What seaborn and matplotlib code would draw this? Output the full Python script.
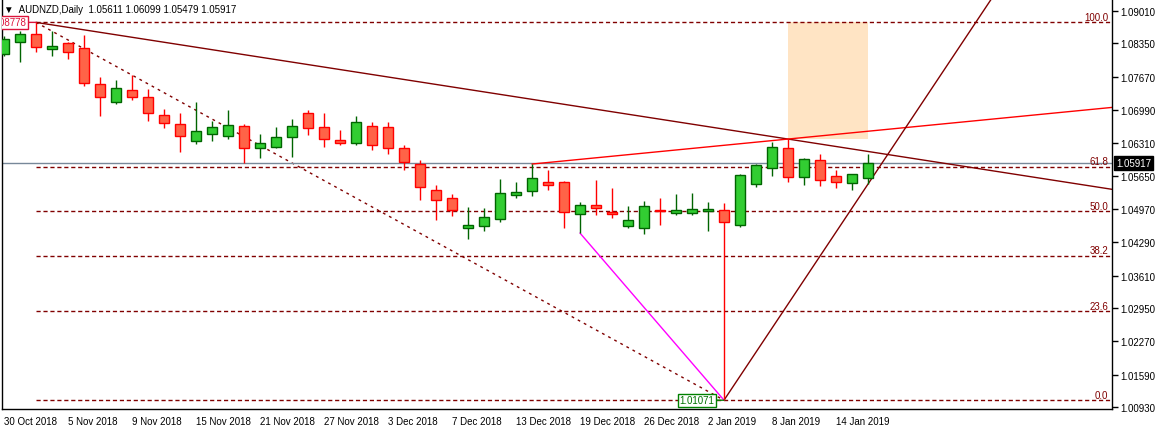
import matplotlib
matplotlib.use('Agg')
import matplotlib.pyplot as plt
import numpy as np
import pandas as pd
import seaborn as sns

# daily AUDNZD bars, 30 Oct 2018 - 16 Jan 2019 (no 25 Dec / 1 Jan bars)
dates = pd.bdate_range('2018-10-30', '2019-01-16').drop(pd.to_datetime(['2018-12-25', '2019-01-01']))

opens = [1.08133, 1.08377, 1.08541, 1.08235, 1.08357, 1.08255, 1.07520, 1.07153, 1.07398, 1.07255,
         1.06888, 1.06704, 1.06358, 1.06500, 1.06460, 1.06664, 1.06215, 1.06235, 1.06439, 1.06929,
         1.06643, 1.06378, 1.06317, 1.06664, 1.06643, 1.06215, 1.05888, 1.05358, 1.05195, 1.04583,
         1.04623, 1.04766, 1.05256, 1.05337, 1.05521, 1.05521, 1.04868, 1.05052, 1.04909, 1.04623,
         1.04583, 1.04950, 1.04889, 1.04889, 1.04929, 1.04950, 1.04644, 1.05480, 1.05807, 1.06215,
         1.05623, 1.05970, 1.05643, 1.05501, 1.05611]
highs = [1.08500, 1.08602, 1.08778, 1.08602, 1.08377, 1.08520, 1.07663, 1.07602, 1.07704, 1.07418,
         1.07010, 1.06929, 1.07153, 1.06766, 1.06990, 1.06704, 1.06500, 1.06643, 1.06806, 1.06990,
         1.06929, 1.06582, 1.06868, 1.06745, 1.06745, 1.06276, 1.05970, 1.05460, 1.05276, 1.05011,
         1.04991, 1.05582, 1.05521, 1.05888, 1.05766, 1.05541, 1.05113, 1.05562, 1.05399, 1.05031,
         1.05133, 1.05195, 1.05276, 1.05297, 1.05113, 1.05093, 1.05684, 1.05888, 1.06337, 1.06398,
         1.06011, 1.06092, 1.05766, 1.05684, 1.06099]
lows = [1.08092, 1.07969, 1.08173, 1.08092, 1.08031, 1.07480, 1.06868, 1.07112, 1.07194, 1.06766,
        1.06623, 1.06133, 1.06296, 1.06358, 1.06398, 1.05909, 1.06011, 1.06215, 1.06031, 1.06480,
        1.06235, 1.06276, 1.06276, 1.06174, 1.06092, 1.05766, 1.05154, 1.04746, 1.04827, 1.04358,
        1.04521, 1.04705, 1.05195, 1.05235, 1.05358, 1.04583, 1.04480, 1.04848, 1.04787, 1.04583,
        1.04460, 1.04644, 1.04848, 1.04848, 1.04521, 1.01071, 1.04603, 1.05419, 1.05643, 1.05521,
        1.05460, 1.05439, 1.05399, 1.05358, 1.05479]
closes = [1.08439, 1.08541, 1.08275, 1.08296, 1.08173, 1.07541, 1.07255, 1.07439, 1.07255, 1.06929,
          1.06725, 1.06460, 1.06562, 1.06643, 1.06684, 1.06215, 1.06317, 1.06439, 1.06664, 1.06623,
          1.06398, 1.06317, 1.06745, 1.06276, 1.06215, 1.05929, 1.05419, 1.05154, 1.04950, 1.04644,
          1.04807, 1.05297, 1.05317, 1.05603, 1.05460, 1.04909, 1.05052, 1.04991, 1.04868, 1.04746,
          1.05031, 1.04929, 1.04950, 1.04970, 1.04970, 1.04705, 1.05664, 1.05868, 1.06235, 1.05623,
          1.05990, 1.05562, 1.05521, 1.05684, 1.05917]

fib_levels = [0.0, 23.6, 38.2, 50.0, 61.8, 100.0]
price_ticks = [1.09010, 1.08350, 1.07670, 1.06990, 1.06310, 1.05650, 1.04970,
               1.04290, 1.03610, 1.02950, 1.02270, 1.01590, 1.00930]

# bar numbers the drawn objects are anchored on
fib_start, fib_end = 2, 45
trend_a, trend_b = 2, 49
rise_a, rise_b = 33, 49
magenta_a = 36
ray_a, ray_b = 45, 54
box_a, box_b = 49, 54

sns.set_theme(style='white')
plt.rcParams['font.family'] = ['Liberation Sans', 'DejaVu Sans']

df = pd.DataFrame({'date': dates, 'open': opens, 'high': highs, 'low': lows, 'close': closes})
df['i'] = np.arange(len(df))
up = df['close'] >= df['open']

fig = plt.figure(figsize=(11.57, 4.31), dpi=100)
ax = fig.add_axes([2 / 1157, 21 / 431, 1110 / 1157, 410 / 431])
x_max = 69.25
ax.set_xlim(-0.125, x_max)
ax.set_ylim(1.00891, 1.09255)

maroon = '#800000'

# peach rectangle
ax.fill_between([box_a, box_b], highs[box_a], highs[fib_start], color='#FFE4C4', lw=0, zorder=0)

# fibo levels
lo, hi = lows[fib_end], highs[fib_start]
for lvl in fib_levels:
    p = lo + (hi - lo) * lvl / 100
    ax.hlines(p, fib_start, x_max, colors=maroon, linestyles=(0, (3, 2)), lw=1, zorder=1)
    ax.text(x_max - 0.25, p + 0.0001, f'{lvl:.1f}', ha='right', va='bottom', fontsize=7, color=maroon)
ax.plot([fib_start, fib_end], [hi, lo], color=maroon, ls=(0, (2, 3)), lw=1, zorder=1)

# bid line
ax.axhline(closes[-1], color='#778899', lw=1, zorder=1)


def ray(a, b, ya, yb):
    k = (yb - ya) / (b - a)
    return [a, x_max], [ya, ya + k * (x_max - a)]


xs, ys = ray(trend_a, trend_b, highs[trend_a], highs[trend_b])
sns.lineplot(x=xs, y=ys, ax=ax, color=maroon, lw=1, zorder=2)
xs, ys = ray(rise_a, rise_b, highs[rise_a], highs[rise_b])
sns.lineplot(x=xs, y=ys, ax=ax, color='#FF0000', lw=1, zorder=2)
xs, ys = ray(ray_a, ray_b, lows[ray_a], lows[ray_b])
sns.lineplot(x=xs, y=ys, ax=ax, color=maroon, lw=1, zorder=2)
sns.lineplot(x=[magenta_a, fib_end], y=[lows[magenta_a], lows[fib_end]], ax=ax, color='#FF00FF', lw=1, zorder=2)

# candles
edge = np.where(up, '#006400', '#FF0000')
fill = np.where(up, '#32CD32', '#FF6347')
ax.vlines(df['i'], df['low'], df['high'], colors=edge, lw=1.0, zorder=3)
body_lo = np.minimum(df['open'], df['close'])
body_h = np.maximum(np.abs(df['close'] - df['open']), 0.00004)
ax.bar(df['i'], body_h, bottom=body_lo, width=0.62, color=fill, edgecolor=edge, lw=1.0, zorder=4)

# price labels of the fibo anchors
ax.annotate(f'{lo:.5f}', xy=(fib_end, lo), xytext=(-7, 0), textcoords='offset points',
            ha='right', va='center', fontsize=7, color='#007000',
            bbox=dict(boxstyle='square,pad=0.15', fc='white', ec='#008000', lw=1),
            arrowprops=dict(arrowstyle='-', color='#008000', lw=1, shrinkA=0, shrinkB=0), zorder=6)
ax.annotate(f'{hi:.5f}', xy=(fib_start, hi), xytext=(-7, 0), textcoords='offset points',
            ha='right', va='center', fontsize=7, color='#DC143C', clip_on=True,
            bbox=dict(boxstyle='square,pad=0.15', fc='white', ec='#DC143C', lw=1),
            arrowprops=dict(arrowstyle='-', color='#DC143C', lw=1, shrinkA=0, shrinkB=0), zorder=6)

# axes
ax.yaxis.tick_right()
ax.set_yticks(price_ticks)
ax.set_yticklabels([f'{p:.5f}' for p in price_ticks])
ticks = df['i'][::4]
ax.set_xticks(ticks)
ax.set_xticklabels([f"{d.day} {d.strftime('%b %Y')}" for d in df['date'][::4]])
for lab in ax.get_xticklabels():
    lab.set_ha('left')
ax.tick_params(axis='both', direction='out', length=4, width=1, colors='black', labelsize=7, pad=2)
ax.tick_params(axis='x', pad=1)
for s in ['left', 'right', 'bottom']:
    ax.spines[s].set_color('black')
    ax.spines[s].set_linewidth(1)
ax.spines['top'].set_visible(False)
ax.set_xlabel('')
ax.set_ylabel('')
ax.grid(False)

ax.annotate(f'{closes[-1]:.5f}', xy=(1.0, closes[-1]), xycoords=('axes fraction', 'data'),
            xytext=(3, 0), textcoords='offset points', ha='left', va='center', fontsize=7,
            color='white', bbox=dict(boxstyle='square,pad=0.2', fc='black', ec='black'), annotation_clip=False)

fig.text(4 / 1157, 1 - 10 / 431,
         f'\u25bc  AUDNZD,Daily  {opens[-1]:.5f} {highs[-1]:.5f} {lows[-1]:.5f} {closes[-1]:.5f}',
         ha='left', va='center', fontsize=7, color='black')

fig.savefig('out.png', dpi=100)
